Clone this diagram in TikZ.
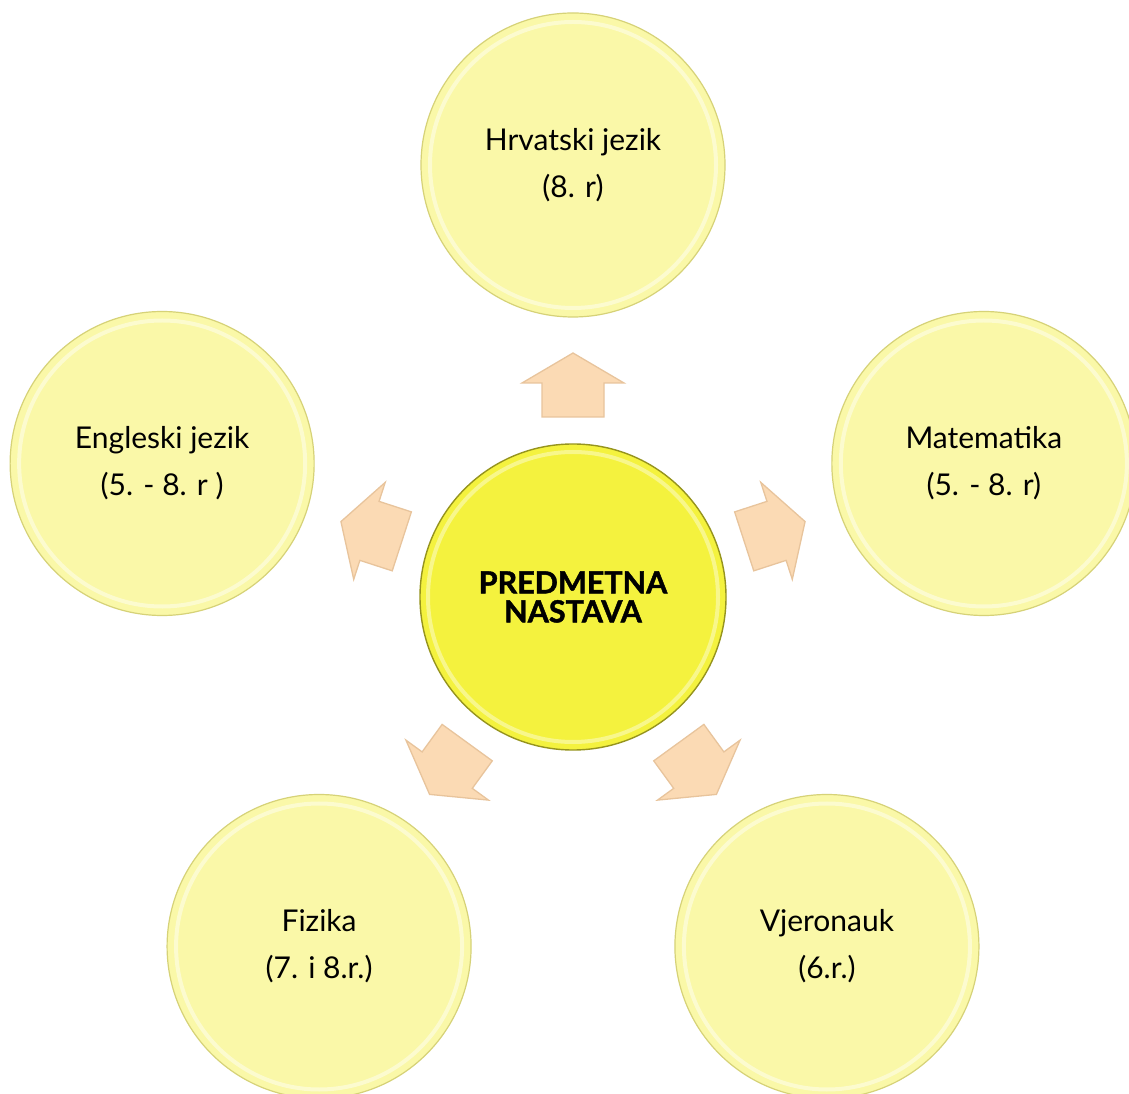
\documentclass[tikz,border=0pt]{standalone}
\usepackage{fontspec}
\setmainfont{Lato}[BoldFeatures={FakeBold=1.4}]
\usetikzlibrary{calc}
\definecolor{outerfill}{RGB}{250,248,168}
\definecolor{outeredge}{RGB}{214,210,120}
\definecolor{hubfill}{RGB}{244,242,62}
\definecolor{hubedge}{RGB}{150,148,30}
\definecolor{arrowfill}{RGB}{251,218,180}
\definecolor{arrowedge}{RGB}{232,196,156}
\begin{document}
\begin{tikzpicture}[x=1pt,y=1pt,
  outer/.style={circle, minimum size=304pt, inner sep=0pt, fill=outerfill, draw=outeredge, line width=1.2pt,
    font=\fontsize{30}{47}\selectfont, align=center, text=black},
  hub/.style={circle, minimum size=306pt, inner sep=0pt, fill=hubfill, draw=hubedge, line width=1.4pt,
    font=\fontsize{30.5}{29}\selectfont\bfseries, align=center, text=black},
  ring/.style={draw=white, line width=4pt, opacity=0.45},
  blockarrow/.style={fill=arrowfill, draw=arrowedge, line width=1.3pt, line join=miter},
]
\useasboundingbox (0,0) rectangle (1129,1093);
\fill[white] (0,0) rectangle (1129,1093);

\coordinate (c) at (573,496);

% outer circles
\node[outer] (hr) at ($(c)+(90:432)$) {Hrvatski jezik\\(8. r)};
\node[outer] (ma) at ($(c)+(18:432)$) {Matematika\\(5. - 8. r)};
\node[outer] (vj) at ($(c)+(-54:432)$) {Vjeronauk\\(6.r.)};
\node[outer] (fi) at ($(c)+(-126:432)$) {Fizika\\(7. i 8.r.)};
\node[outer] (en) at ($(c)+(162:432)$) {Engleski jezik\\(5. - 8. r )};

% inner highlight rings
\foreach \n in {hr,ma,vj,fi,en}{
  \draw[ring] (\n.center) circle (143);
}

% hub
\node[hub] (pn) at (c) {PREDMETNA\\NASTAVA};
\draw[ring, opacity=0.4] (pn.center) circle (145);

% block arrows
\foreach \a in {90,18,-54,-126,162}{
  \begin{scope}[shift={(c)}, rotate=\a]
    \draw[blockarrow] (180,-31) -- (214,-31) -- (214,-51) -- (244,0) -- (214,51) -- (214,31) -- (180,31) -- cycle;
  \end{scope}
}
\end{tikzpicture}
\end{document}
